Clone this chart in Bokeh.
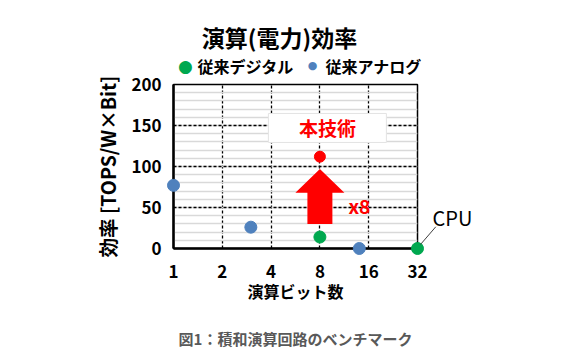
from bokeh.plotting import figure
from bokeh.models import FixedTicker
from bokeh.embed import file_html
from bokeh.resources import INLINE
from bokeh.core.properties import value

# ---- data ----
title_text = "演算(電力)効率"
x_label = "演算ビット数"
y_label = "効率 [TOPS/W×Bit]"
caption = "図1：積和演算回路のベンチマーク"
x_ticks = [1, 2, 4, 8, 16, 32]
y_ticks = [0, 50, 100, 150, 200]

digital_name = "従来デジタル"
digital_bits = [8, 32]
digital_eff = [14, 0]

analog_name = "従来アナログ"
analog_bits = [1, 3, 14]
analog_eff = [77, 26, 0]

proposed_name = "本技術"
proposed_bits = [8]
proposed_eff = [112]

improve_text = "x8"
cpu_text = "CPU"

GREEN = "#00a84f"
BLUE = "#4f81bd"
RED = "#ff0000"
FONT = "Noto Sans CJK JP"

p = figure(width=587, height=364, x_axis_type="log", x_range=(1, 32), y_range=(0, 200),
           output_backend="svg", toolbar_location=None,
           min_border_left=173, min_border_right=170, min_border_top=84, min_border_bottom=116)
p.background_fill_color = "white"
p.border_fill_color = "white"
p.outline_line_color = "black"
p.outline_line_width = 1.5

# axes
p.xaxis.ticker = FixedTicker(ticks=x_ticks)
p.xaxis.major_label_overrides = {t: str(t) for t in x_ticks}
p.yaxis.ticker = FixedTicker(ticks=y_ticks, minor_ticks=list(range(0, 201, 10)))
for ax in (p.xaxis[0], p.yaxis[0]):
    ax.axis_line_width = 2.5
    ax.axis_line_color = "black"
    ax.major_tick_line_color = None
    ax.minor_tick_line_color = None
    ax.major_label_text_font = FONT
    ax.major_label_text_font_style = "bold"
    ax.major_label_text_font_size = "17px"
    ax.major_label_text_color = "black"
    ax.axis_label_text_font = FONT
    ax.axis_label_text_font_style = "bold"
    ax.axis_label_text_color = "black"
p.xaxis.axis_label = x_label
p.yaxis.axis_label = y_label
p.xaxis.axis_label_text_font_size = "16px"
p.yaxis.axis_label_text_font_size = "19.5px"
p.xaxis.major_label_standoff = 10
p.yaxis.major_label_standoff = 6
p.xaxis.axis_label_standoff = -2
p.yaxis.axis_label_standoff = 6

# grid
p.xgrid.ticker = FixedTicker(ticks=x_ticks)
p.xgrid.grid_line_color = "black"
p.xgrid.grid_line_dash = "3 2"
p.xgrid.grid_line_width = 1.3
p.ygrid.grid_line_color = "black"
p.ygrid.grid_line_dash = "3 2"
p.ygrid.grid_line_width = 1.3
p.ygrid.minor_grid_line_color = "#d9d9d9"
p.ygrid.minor_grid_line_width = 1.3

# proposed-label box
p.rect(x=[8.9], y=[147], width=118, height=29, width_units="screen", height_units="screen",
       fill_color="white", line_color="#e3e3e3", line_width=1)
p.text(x=[8.9], y=[147], text=[proposed_name], text_align="center", text_baseline="middle",
       text_color=RED, text_font=value(FONT), text_font_style="bold", text_font_size="19px")

# arrow (shaft + head) from conventional digital to proposed at 8 bit
ax0 = proposed_bits[0]
y0, yneck, ytip = 30, 68, 97
sw, hw = 0.256, 0.502
arrow_x = [ax0 * 2**-sw, ax0 * 2**sw, ax0 * 2**sw, ax0 * 2**hw, ax0, ax0 * 2**-hw, ax0 * 2**-sw]
arrow_y = [y0, y0, yneck, yneck, ytip, yneck, yneck]
p.patch(arrow_x, arrow_y, fill_color=RED, line_color=None)
p.text(x=[12], y=[52], text=[improve_text], text_align="left", text_baseline="middle",
       text_color=RED, text_font=value(FONT), text_font_style="bold", text_font_size="19px")

# points (overlay level so edge points are not clipped)
p.scatter(digital_bits, digital_eff, size=12, color=GREEN, level="overlay")
p.scatter(analog_bits, analog_eff, size=12, color=BLUE, level="overlay")
p.scatter(proposed_bits, proposed_eff, size=11, color=RED, level="overlay")

# CPU callout
p.segment(x0=[33.4], y0=[4.9], x1=[41.5], y1=[26.5], line_color="#404040", line_width=1,
          level="overlay")
p.text(x=[39.6], y=[38], text=[cpu_text], text_align="left", text_baseline="middle",
       text_font=value(FONT), text_font_size="20px", text_color="black", level="overlay")

# title and caption
p.text(x=[4.51], y=[258.5], text=[title_text], text_align="center", text_baseline="middle",
       text_font=value(FONT), text_font_style="bold", text_font_size="23px",
       text_color="black", level="overlay")
p.text(x=[5.66], y=[-109.8], text=[caption], text_align="center", text_baseline="middle",
       text_font=value(FONT), text_font_style="bold", text_font_size="15px",
       text_color="#595959", level="overlay")

# legend (drawn manually above the frame)
p.text(x=[1.186], y=[223], text=["●"], text_align="center", text_baseline="middle",
       text_font=value("DejaVu Sans"), text_font_size="17px", text_color=GREEN, level="overlay")
p.text(x=[1.406], y=[223], text=[digital_name], text_align="left", text_baseline="middle",
       text_font=value(FONT), text_font_style="bold", text_font_size="16px",
       text_color="black", level="overlay")
p.text(x=[7.2], y=[223], text=["●"], text_align="center", text_baseline="middle",
       text_font=value("DejaVu Sans"), text_font_size="11px", text_color=BLUE, level="overlay")
p.text(x=[8.66], y=[223], text=[analog_name], text_align="left", text_baseline="middle",
       text_font=value(FONT), text_font_style="bold", text_font_size="16px",
       text_color="black", level="overlay")

open("out.html", "w").write(file_html(p, INLINE))
